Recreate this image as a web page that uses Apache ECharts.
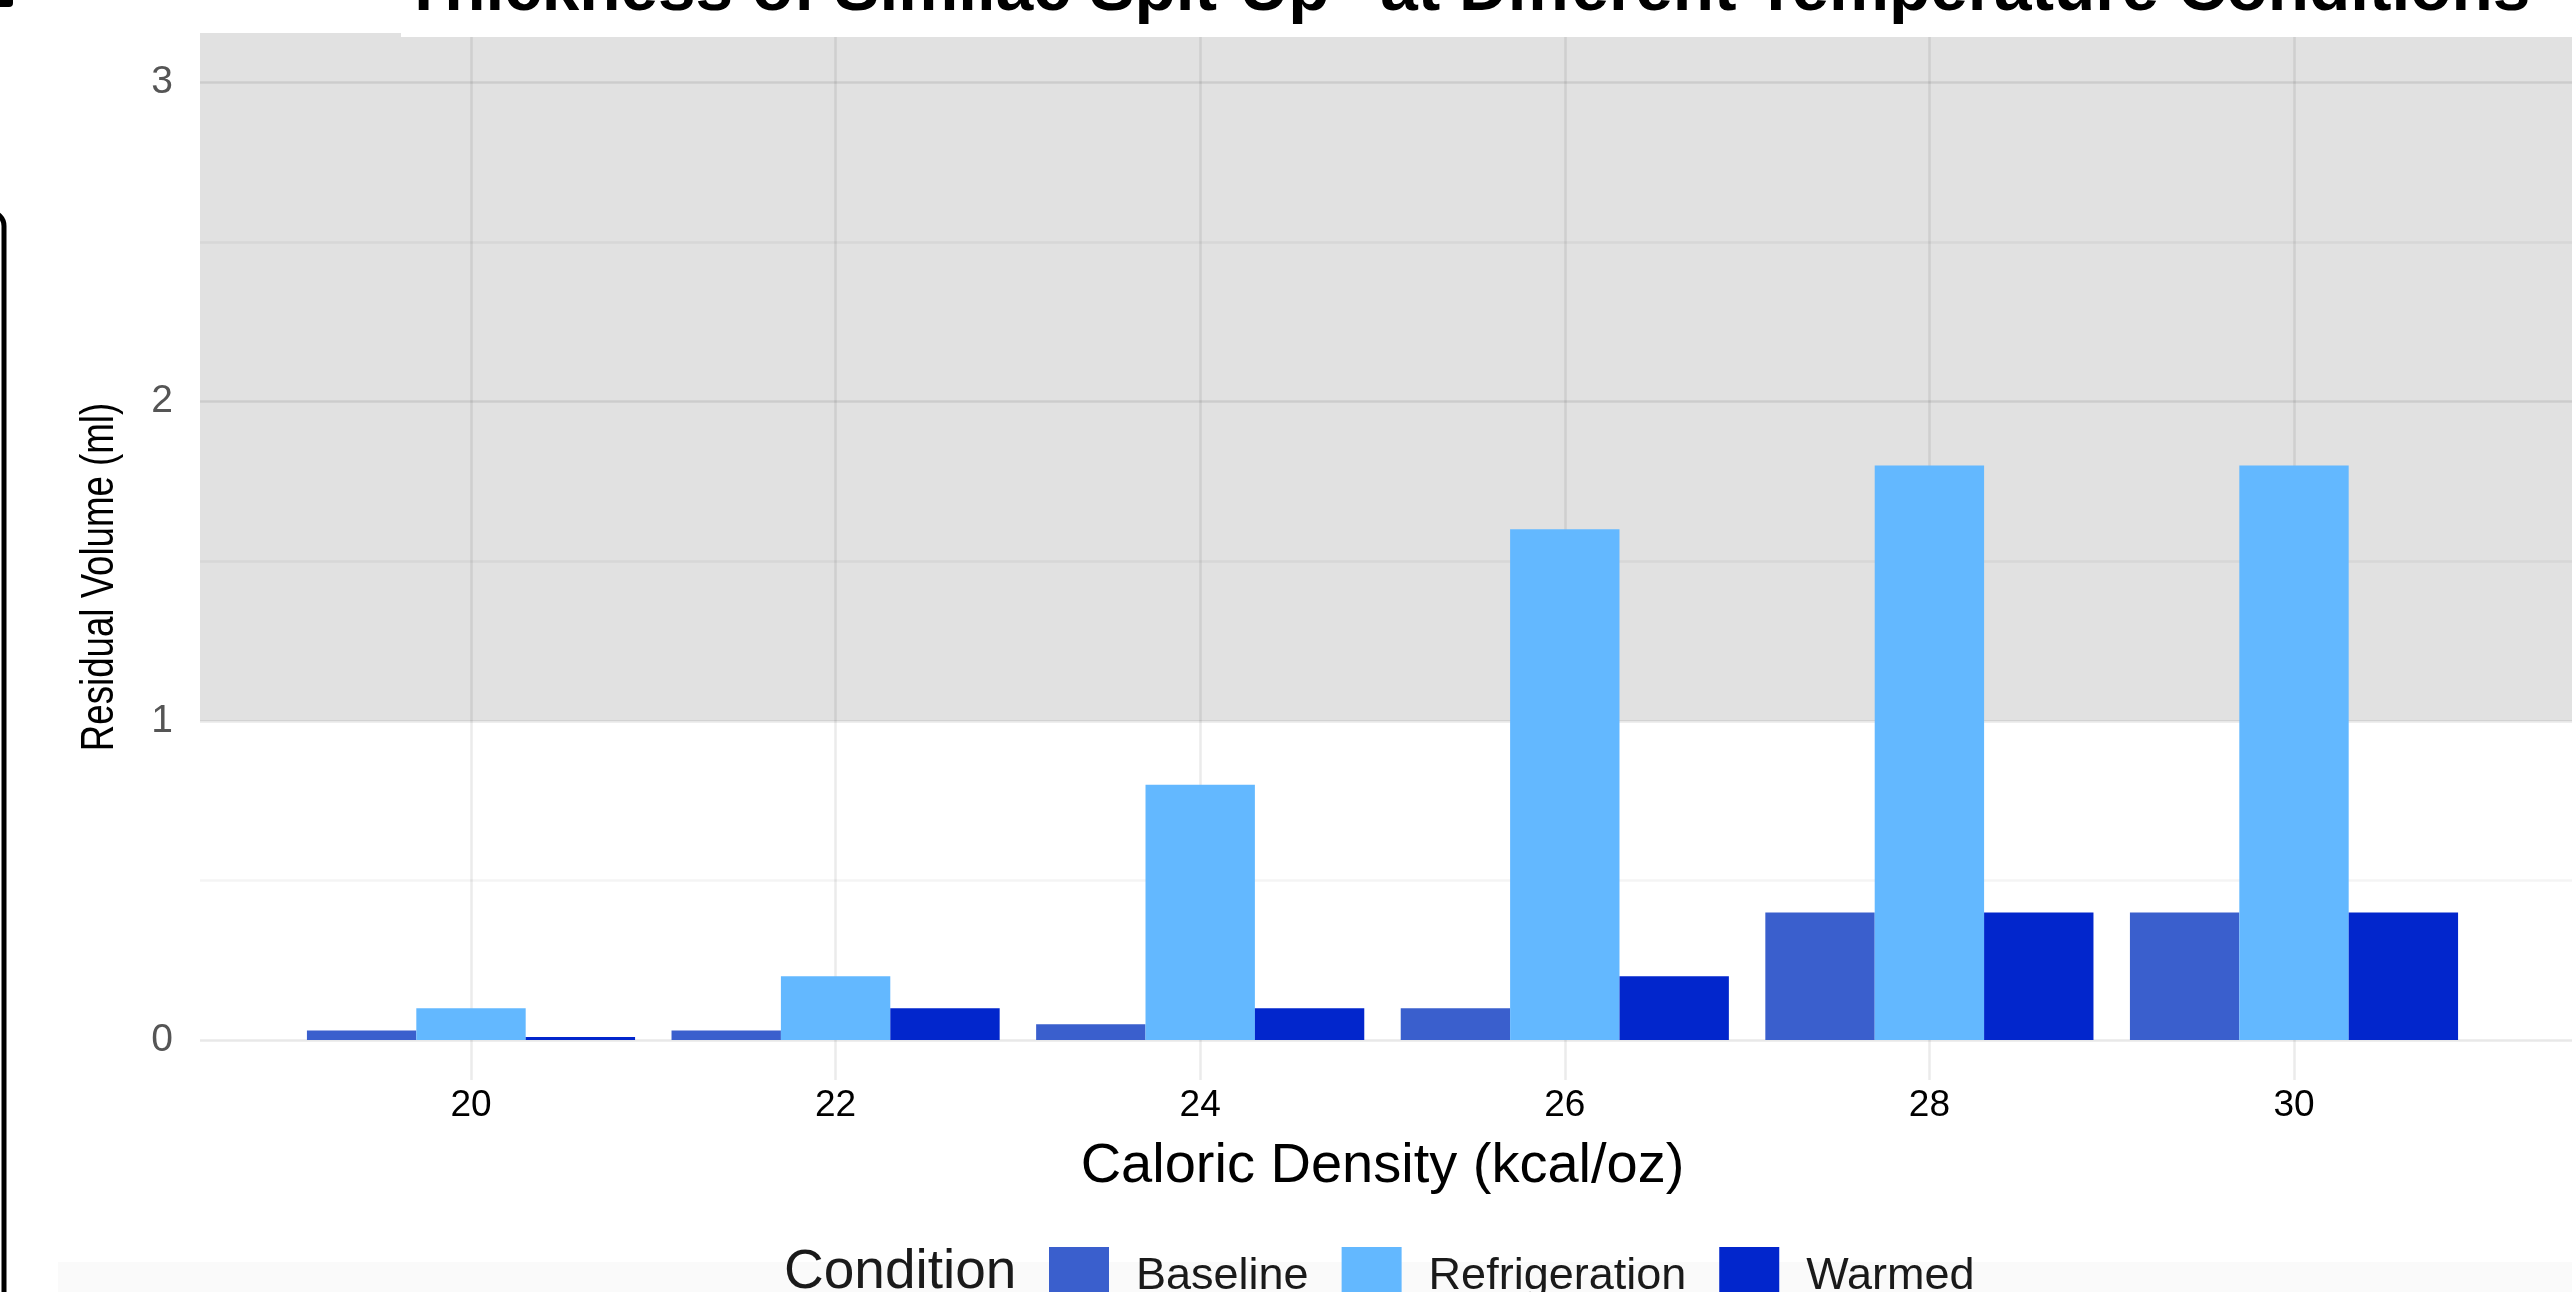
<!DOCTYPE html>
<html><head><meta charset="utf-8">
<script src="https://cdn.jsdelivr.net/npm/echarts@6/dist/echarts.min.js"></script>
<style>html,body{margin:0;padding:0;background:#fff;overflow:hidden} #c{width:2572px;height:1292px;}</style>
</head><body><div id="c"></div>
<script>
// ---- data ----
const categories = ['20', '22', '24', '26', '28', '30'];
const seriesNames = ['Baseline', 'Refrigeration', 'Warmed'];
const baselineValues = [0.03, 0.03, 0.05, 0.1, 0.4, 0.4];
const refrigerationValues = [0.1, 0.2, 0.8, 1.6, 1.8, 1.8];
const warmedValues = [0.01, 0.1, 0.1, 0.2, 0.4, 0.4];
const yTickLabels = [0, 1, 2, 3];
const yGridValues = [0, 0.5, 1, 1.5, 2, 2.5, 3];
const shadedFrom = 1;
const titleText = 'Thickness of Similac Spit-Up" at Different Temperature Conditions';
const xTitle = 'Caloric Density (kcal/oz)';
const yTitle = 'Residual Volume (ml)';
const legendTitle = 'Condition';

// ---- styling ----
const FONT = '"Liberation Sans", Arial, Helvetica, sans-serif';
const colors = ['#3A5FCD', '#63B8FF', '#0226CC'];
const yMin = -0.125, yMax = 3.155;
const valueLists = [baselineValues, refrigerationValues, warmedValues];

const chart = echarts.init(document.getElementById('c'), null, { renderer: 'canvas' });
const option = {
  animation: false,
  backgroundColor: '#ffffff',
  textStyle: { fontFamily: FONT },
  grid: [
    { left: 200, right: 0, top: 33, bottom: 212 },
    { left: 471, right: 278, top: 33, bottom: 212 }
  ],
  xAxis: [
    { type: 'value', gridIndex: 0, min: 0, max: 1, show: false },
    {
      type: 'category', gridIndex: 1, data: categories, boundaryGap: false, z: 3,
      axisLine: { show: false }, axisTick: { show: false },
      axisLabel: { fontSize: 37, color: '#000', margin: 7, interval: 0, fontFamily: FONT },
      splitLine: { show: true, lineStyle: { color: 'rgba(0,0,0,0.08)', width: 2.5 } },
      name: xTitle, nameLocation: 'middle', nameGap: 59,
      nameTextStyle: { fontSize: 56, color: '#000', fontFamily: FONT }
    }
  ],
  yAxis: [
    {
      type: 'value', gridIndex: 0, min: yMin, max: yMax, z: 3,
      axisLine: { show: false },
      axisTick: { show: false, customValues: yGridValues },
      axisLabel: { customValues: yTickLabels, fontSize: 39, color: '#555555', margin: 27, fontFamily: FONT },
      splitLine: { show: true, lineStyle: { color: ['rgba(0,0,0,0.09)', 'rgba(0,0,0,0.045)'], width: 2.5 } }
    },
    { type: 'value', gridIndex: 1, min: yMin, max: yMax, show: false }
  ],
  legend: {
    data: seriesNames, left: 1049, top: 1247, padding: 0,
    itemWidth: 60, itemHeight: 60, itemGap: 33, icon: 'rect',
    textStyle: { fontSize: 45, color: '#1a1a1a', padding: [0, 0, 0, 22], fontFamily: FONT }
  },
  series: [
    {
      type: 'line', xAxisIndex: 0, yAxisIndex: 0, data: [], silent: true, z: 1,
      markArea: { silent: true, itemStyle: { color: '#e1e1e1' }, data: [[{ yAxis: shadedFrom }, { yAxis: yMax }]] }
    }
  ].concat(seriesNames.map((n, i) => ({
    type: 'bar', name: n, xAxisIndex: 1, yAxisIndex: 1, data: valueLists[i],
    barGap: '0%', barCategoryGap: '10%', clip: false, z: 5,
    itemStyle: { color: colors[i] }
  }))),
  graphic: [
    { type: 'rect', z: 100, shape: { x: 401, y: 0, width: 2171, height: 37 }, style: { fill: '#ffffff' } },
    { type: 'text', z: 101, x: 403, y: -9, style: { text: titleText, fontSize: 67.5, fontWeight: 'bold', fill: '#000', align: 'left', verticalAlign: 'middle', fontFamily: FONT } },
    { type: 'text', z: 101, x: 100, y: 577, rotation: Math.PI / 2, scaleX: 0.78, scaleY: 1, style: { text: yTitle, fontSize: 47, fill: '#000', align: 'center', verticalAlign: 'middle', fontFamily: FONT } },
    { type: 'rect', z: 0, shape: { x: 58, y: 1262, width: 2514, height: 30 }, style: { fill: '#fafafa' } },
    { type: 'text', z: 101, x: 784, y: 1273, style: { text: legendTitle, fontSize: 55, fill: '#1a1a1a', align: 'left', verticalAlign: 'middle', fontFamily: FONT } },
    { type: 'rect', z: 101, shape: { x: -300, y: 212, width: 304, height: 1300, r: 14 }, style: { fill: 'none', stroke: '#000', lineWidth: 5 } },
    { type: 'rect', z: 101, shape: { x: 0, y: 0, width: 13, height: 7, r: [0, 0, 4, 0] }, style: { fill: '#000' } }
  ]
};
chart.setOption(option);
</script>
</body></html>
